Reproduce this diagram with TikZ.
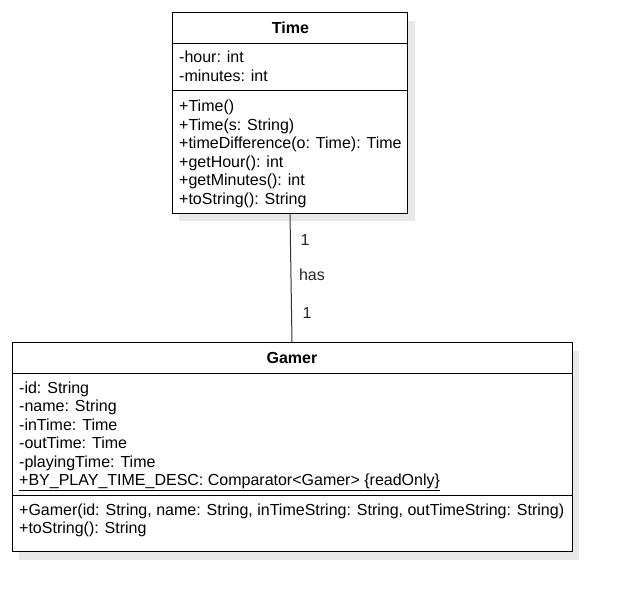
\documentclass[tikz,border=0pt]{standalone}
\usepackage{fontspec}
\setmainfont{Liberation Sans}
\usepackage{tikz}
\usetikzlibrary{shadows}
\tikzset{
    classbox/.style={draw=black, line width=1pt, fill=white, inner sep=0pt,
        drop shadow={shadow xshift=7pt, shadow yshift=-8pt, fill=black!9, opacity=1}},
    classname/.style={anchor=base, inner sep=0pt, font=\fontsize{16}{18.6}\selectfont\bfseries},
    member/.style={anchor=base west, inner sep=0pt, font=\fontsize{16}{18.6}\selectfont},
    divider/.style={line width=1pt, black},
    mult/.style={anchor=base, inner sep=0pt, font=\fontsize{16}{18.6}\selectfont, text=black!85},
}
\begin{document}
\begin{tikzpicture}[x=1pt, y=-1pt]
    \useasboundingbox[fill=white] (0,0) rectangle (622,602);

    % Class Time
    \node[classbox, minimum width=235.5pt, minimum height=200.6pt] (time) at (290,113) {};
    \node[classname] (timename) at (290.5,33.5) {Time};
    \draw[divider] (time.west |- 0,43.5) -- (time.east |- 0,43.5);
    \draw[divider] (time.west |- 0,90.5) -- (time.east |- 0,90.5);
    \foreach \txt [count=\i] in {-hour: int, -minutes: int}
        \node[member] (tattr\i) at (179,63+18.6*\i-18.6) {\txt};
    \foreach \txt [count=\i] in {+Time(), +Time(s: String), +timeDifference(o: Time): Time,
            +getHour(): int, +getMinutes(): int, +toString(): String}
        \node[member] (tmeth\i) at (179,111.5+18.6*\i-18.6) {\txt};

    % Class Gamer
    \node[classbox, minimum width=560pt, minimum height=209pt] (gamer) at (292,447.2) {};
    \node[classname] (gamername) at (292,363.3) {Gamer};
    \draw[divider] (gamer.west |- 0,373.5) -- (gamer.east |- 0,373.5);
    \draw[divider] (gamer.west |- 0,495.5) -- (gamer.east |- 0,495.5);
    \foreach \txt [count=\i] in {-id: String, -name: String, -inTime: Time,
            -outTime: Time, -playingTime: Time}
        \node[member] (gattr\i) at (19,393.3+18.5*\i-18.5) {\txt};
    \node[member] (gattr6) at (19,485.8) {\underline{+BY\_PLAY\_TIME\_DESC: Comparator<Gamer> \{readOnly\}}};
    \foreach \txt [count=\i] in {{+Gamer(id: String, name: String, inTimeString: String, outTimeString: String)},
            +toString(): String}
        \node[member] (gmeth\i) at (19,515+18.5*\i-18.5) {\txt};

    % Association
    \draw[line width=1pt, black!80] (time.south) -- (gamer.north);
    \node[mult] (multtop) at (305,245.7) {1};
    \node[mult] (assoc) at (312,280.7) {has};
    \node[mult] (multbot) at (307,318.3) {1};
\end{tikzpicture}
\end{document}
